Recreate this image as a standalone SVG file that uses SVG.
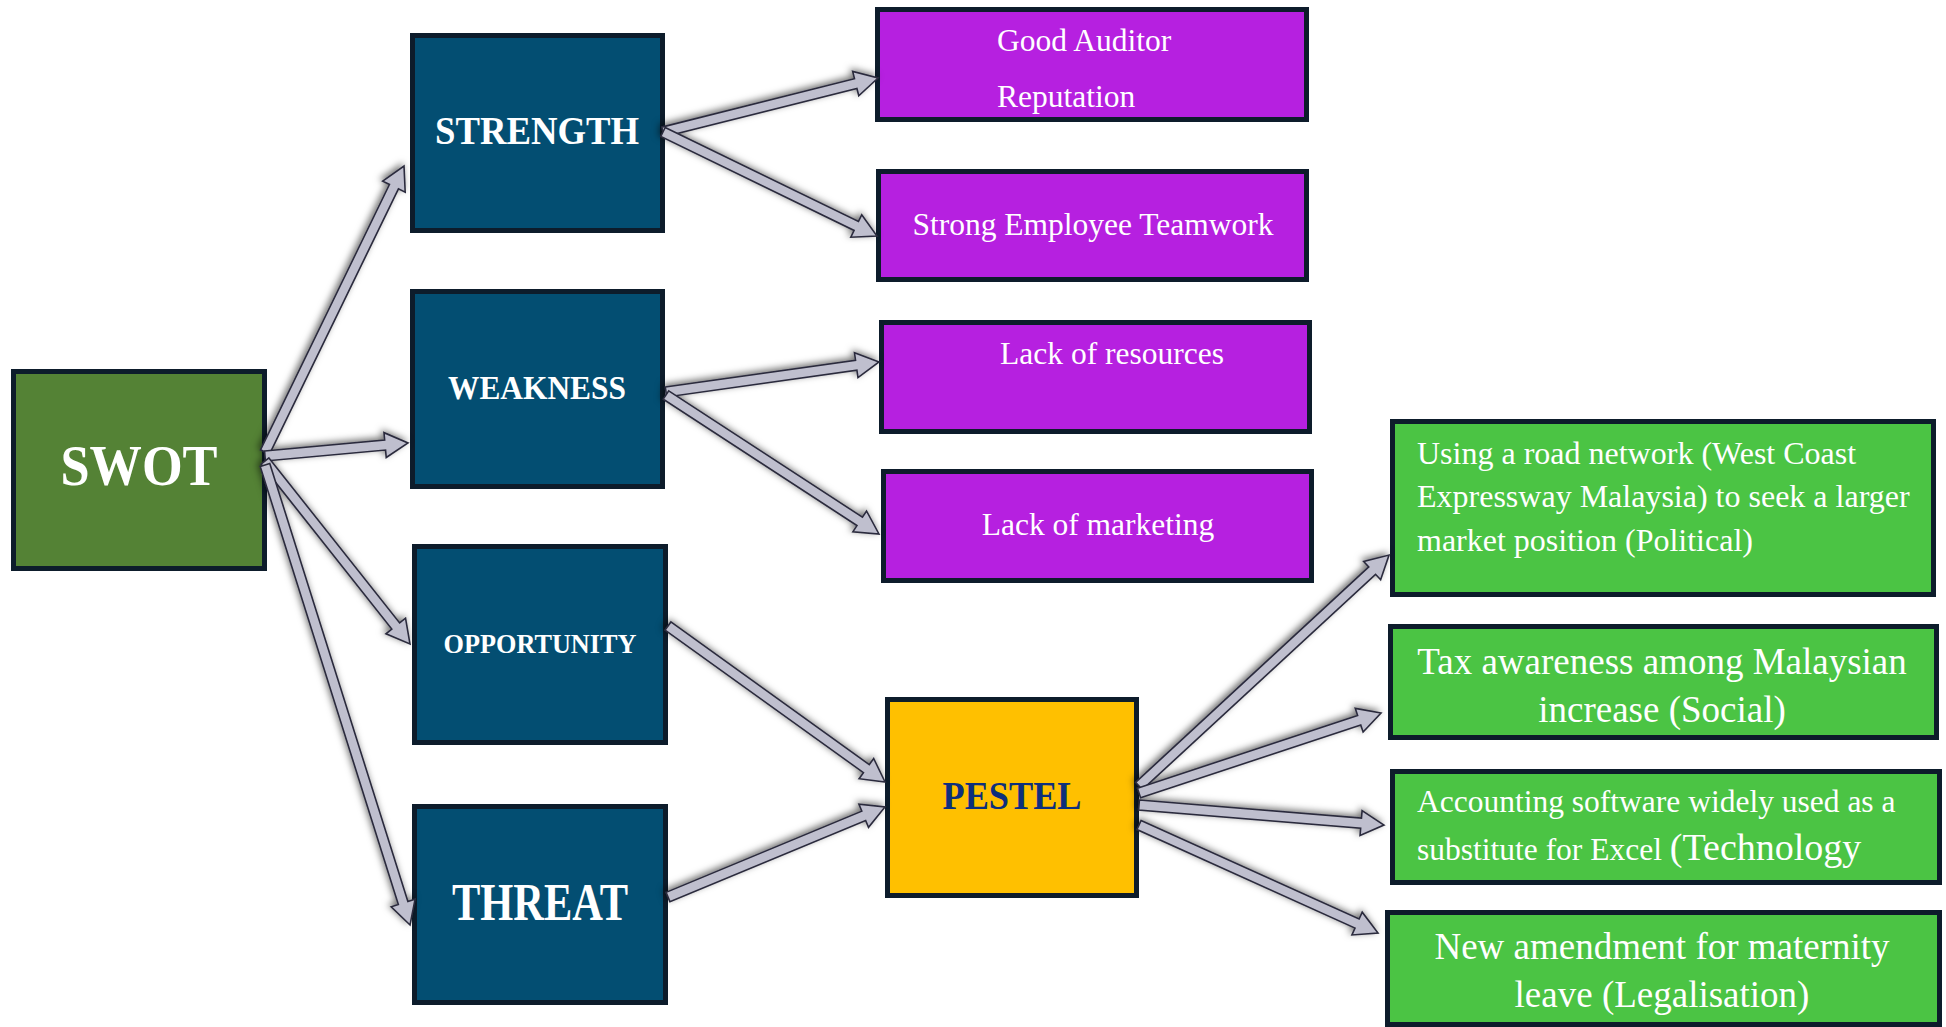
<svg xmlns="http://www.w3.org/2000/svg" width="1946" height="1027" viewBox="0 0 1946 1027">
  <style>
    .box { stroke: #0d1c2b; stroke-width: 5; }
    .swot { fill: #548235; }
    .navy { fill: #034e72; }
    .purple { fill: #b620e0; }
    .green { fill: #4bc444; }
    .gold { fill: #ffc000; }
    .title { font-family: "Liberation Serif", "Times New Roman", serif; font-weight: bold; fill: #ffffff; text-anchor: middle; }
    .label { font-family: "Liberation Serif", "Times New Roman", serif; fill: #ffffff; }
    .mid { text-anchor: middle; }
    .arrow { fill: #bfbfce; stroke: #2b2b3d; stroke-width: 1.6; stroke-linejoin: miter; }
  </style>
  <defs>
    <filter id="shadow" x="-20%" y="-20%" width="140%" height="140%">
      <feDropShadow dx="-2" dy="-2" stdDeviation="3.5" flood-color="#000000" flood-opacity="0.55"/>
    </filter>
  </defs>
  <rect width="1946" height="1027" fill="#ffffff"/>

  <!-- root -->
  <g id="swot">
    <rect class="box swot" x="13.5" y="371.5" width="251" height="197"/>
    <text class="title" x="139" y="485" font-size="56" textLength="157" lengthAdjust="spacingAndGlyphs">SWOT</text>
  </g>

  <!-- SWOT quadrants -->
  <g id="strength">
    <rect class="box navy" x="412.5" y="35.5" width="250" height="195"/>
    <text class="title" x="537" y="144" font-size="39" textLength="204" lengthAdjust="spacingAndGlyphs">STRENGTH</text>
  </g>
  <g id="weakness">
    <rect class="box navy" x="412.5" y="291.5" width="250" height="195"/>
    <text class="title" x="537" y="399" font-size="33" textLength="178" lengthAdjust="spacingAndGlyphs">WEAKNESS</text>
  </g>
  <g id="opportunity">
    <rect class="box navy" x="414.5" y="546.5" width="251" height="196"/>
    <text class="title" x="540" y="653" font-size="27" textLength="193" lengthAdjust="spacingAndGlyphs">OPPORTUNITY</text>
  </g>
  <g id="threat">
    <rect class="box navy" x="414.5" y="806.5" width="251" height="196"/>
    <text class="title" x="540" y="920" font-size="53" textLength="176" lengthAdjust="spacingAndGlyphs">THREAT</text>
  </g>

  <!-- strengths and weaknesses -->
  <g id="good-auditor">
    <rect class="box purple" x="877.5" y="9.5" width="429" height="110"/>
    <text class="label" x="997" y="51" font-size="31.5">Good Auditor</text>
    <text class="label" x="997" y="107" font-size="31.5">Reputation</text>
  </g>
  <g id="teamwork">
    <rect class="box purple" x="878.5" y="171.5" width="428" height="108"/>
    <text class="label mid" x="1093" y="235" font-size="31.5">Strong Employee Teamwork</text>
  </g>
  <g id="resources">
    <rect class="box purple" x="881.5" y="322.5" width="428" height="109"/>
    <text class="label mid" x="1112" y="364" font-size="31.5">Lack of resources</text>
  </g>
  <g id="marketing">
    <rect class="box purple" x="883.5" y="471.5" width="428" height="109"/>
    <text class="label mid" x="1098" y="535" font-size="31.5">Lack of marketing</text>
  </g>

  <!-- PESTEL hub -->
  <g id="pestel">
    <rect class="box gold" x="887.5" y="699.5" width="249" height="196"/>
    <text class="title" x="1012" y="809" font-size="39" textLength="139" lengthAdjust="spacingAndGlyphs" style="fill:#0e2f7c">PESTEL</text>
  </g>

  <!-- PESTEL factors -->
  <g id="political">
    <rect class="box green" x="1392.5" y="421.5" width="541" height="173"/>
    <text class="label" x="1417" y="464" font-size="32">Using a road network (West Coast</text>
    <text class="label" x="1417" y="507" font-size="32">Expressway Malaysia) to seek a larger</text>
    <text class="label" x="1417" y="551" font-size="32">market position (Political)</text>
  </g>
  <g id="social">
    <rect class="box green" x="1390.5" y="626.5" width="546" height="111"/>
    <text class="label mid" x="1662" y="674" font-size="37">Tax awareness among Malaysian</text>
    <text class="label mid" x="1662" y="722" font-size="37">increase (Social)</text>
  </g>
  <g id="technology">
    <rect class="box green" x="1392.5" y="771.5" width="547" height="111"/>
    <text class="label" x="1417" y="812" font-size="31.5">Accounting software widely used as a</text>
    <text class="label" x="1417" y="860" font-size="31.5">substitute for Excel <tspan font-size="38">(Technology</tspan></text>
  </g>
  <g id="legal">
    <rect class="box green" x="1387.5" y="912.5" width="552" height="112"/>
    <text class="label mid" x="1662" y="959" font-size="37">New amendment for maternity</text>
    <text class="label mid" x="1662" y="1007" font-size="37">leave (Legalisation)</text>
  </g>

  <!-- block arrows: each drawn along +x from its tail, then placed and turned -->
  <g id="connectors" filter="url(#shadow)">
    <polygon class="arrow" transform="translate(265,452) rotate(-64.08)" points="0,-5 295,-5 295,-12.5 318,0 295,12.5 295,5 0,5"/>
    <polygon class="arrow" transform="translate(265,456) rotate(-5.19)" points="0,-5 120.6,-5 120.6,-12.5 143.6,0 120.6,12.5 120.6,5 0,5"/>
    <polygon class="arrow" transform="translate(265,461) rotate(51.61)" points="0,-5 210.5,-5 210.5,-12.5 233.5,0 210.5,12.5 210.5,5 0,5"/>
    <polygon class="arrow" transform="translate(265,465) rotate(72.5)" points="0,-5 459.3,-5 459.3,-12.5 482.3,0 459.3,12.5 459.3,5 0,5"/>

    <polygon class="arrow" transform="translate(663,132) rotate(-14.1)" points="0,-5 198.7,-5 198.7,-12.5 221.7,0 198.7,12.5 198.7,5 0,5"/>
    <polygon class="arrow" transform="translate(663,132) rotate(25.92)" points="0,-5 214.9,-5 214.9,-12.5 237.9,0 214.9,12.5 214.9,5 0,5"/>
    <polygon class="arrow" transform="translate(666,392) rotate(-8.02)" points="0,-5 192.1,-5 192.1,-12.5 215.1,0 192.1,12.5 192.1,5 0,5"/>
    <polygon class="arrow" transform="translate(666,395) rotate(33.13)" points="0,-5 231.3,-5 231.3,-12.5 254.3,0 231.3,12.5 231.3,5 0,5"/>

    <polygon class="arrow" transform="translate(668,626) rotate(35.71)" points="0,-5 244.3,-5 244.3,-12.5 267.3,0 244.3,12.5 244.3,5 0,5"/>
    <polygon class="arrow" transform="translate(668,897) rotate(-22.53)" points="0,-5 211.9,-5 211.9,-12.5 234.9,0 211.9,12.5 211.9,5 0,5"/>

    <polygon class="arrow" transform="translate(1139,786) rotate(-42.73)" points="0,-5 317.4,-5 317.4,-12.5 340.4,0 317.4,12.5 317.4,5 0,5"/>
    <polygon class="arrow" transform="translate(1139,793) rotate(-18.29)" points="0,-5 231.9,-5 231.9,-12.5 254.9,0 231.9,12.5 231.9,5 0,5"/>
    <polygon class="arrow" transform="translate(1139,805) rotate(4.67)" points="0,-5 222.8,-5 222.8,-12.5 245.8,0 222.8,12.5 222.8,5 0,5"/>
    <polygon class="arrow" transform="translate(1139,825) rotate(24.32)" points="0,-5 239.3,-5 239.3,-12.5 262.3,0 239.3,12.5 239.3,5 0,5"/>
  </g>
</svg>
